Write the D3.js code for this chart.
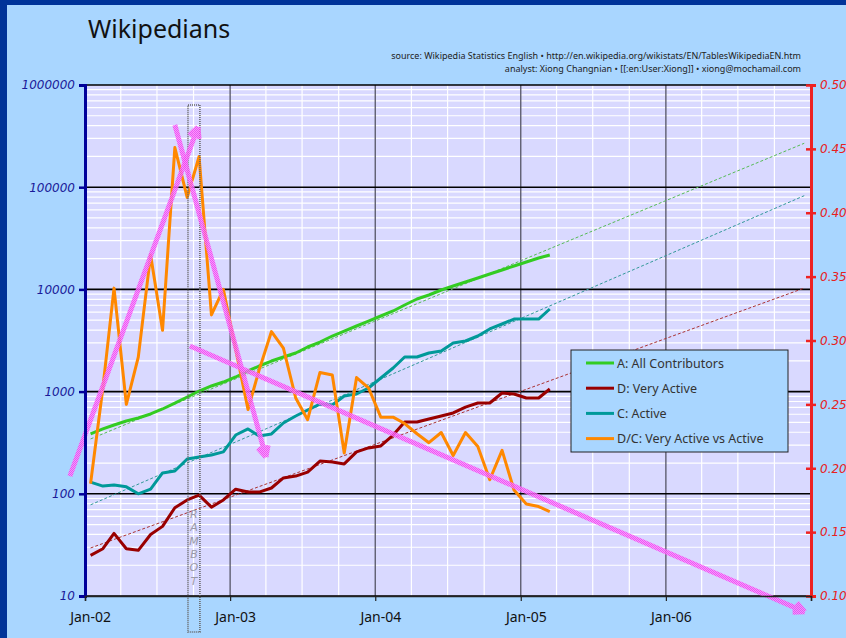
<!DOCTYPE html>
<html>
<head>
<meta charset="utf-8">
<script src="https://cdn.jsdelivr.net/npm/d3@7"></script>
<style>
  body { margin: 0; background: #a9d6ff; }
  svg { display: block; }
</style>
</head>
<body>
<svg width="846" height="638"></svg>
<script>
// monthly figures, English Wikipedia
var months = ["2002-01","2002-02","2002-03","2002-04","2002-05","2002-06","2002-07","2002-08","2002-09","2002-10","2002-11","2002-12",
              "2003-01","2003-02","2003-03","2003-04","2003-05","2003-06","2003-07","2003-08","2003-09","2003-10","2003-11","2003-12",
              "2004-01","2004-02","2004-03","2004-04","2004-05","2004-06","2004-07","2004-08","2004-09","2004-10","2004-11","2004-12",
              "2005-01","2005-02","2005-03"];
var allContributors = [385,431,471,516,552,604,676,773,885,1013,1135,1241,1390,1591,1780,1991,2181,2387,2731,3056,3499,3916,4383,4905,
                       5493,6149,7035,8055,8813,9866,10790,11810,12940,14150,15490,16940,18540,20290,21720];
var veryActive = [25,29,41,29,28,40,48,73,87,97,74,87,111,104,104,114,143,149,163,209,205,196,257,281,
                  294,376,504,504,540,577,618,706,773,773,969,948,865,865,1060];
var active = [130,119,122,117,100,111,160,167,219,229,240,257,376,431,368,385,493,577,661,756,739,906,948,1085,
              1359,1702,2181,2181,2387,2497,2990,3127,3499,4100,4585,5130,5130,5130,6430];
var ratioDC = [0.188,0.263,0.341,0.250,0.287,0.367,0.308,0.451,0.412,0.444,0.320,0.340,0.293,0.246,0.277,0.307,0.294,0.255,0.238,0.275,
               0.273,0.212,0.271,0.263,0.240,0.240,0.235,0.227,0.220,0.228,0.210,0.228,0.217,0.191,0.214,0.183,0.172,0.170,0.166];

// exponential trend lines (start, end)
var trendDates = ["2002-01-15","2006-12-15"];
var trendAll = [344, 269000];
var trendActive = [78, 82600];
var trendVeryActive = [29.5, 10300];

// hand drawn arrows (date, value on left axis)
var arrowUpDates = ["2001-11-24","2002-10-12"], arrowUpValues = [149, 388000];
var arrowDownDates = ["2002-08-15","2003-04-01"], arrowDownValues = [406000, 229];
var arrowTrendDates = ["2002-09-22","2006-12-16"], arrowTrendValues = [2790, 7];

// rambot box
var rambotDates = ["2002-09-17","2002-10-17"], rambotValues = [637000, 4.45];

var leftTicks = [10,100,1000,10000,100000,1000000];
var rightTicks = [0.10,0.15,0.20,0.25,0.30,0.35,0.40,0.45,0.50];
var yearTicks = ["2002-01-01","2003-01-01","2004-01-01","2005-01-01","2006-01-01","2007-01-01"];
var xLabels = ["Jan-02","Jan-03","Jan-04","Jan-05","Jan-06"];

var seriesNames = ["A: All Contributors","D: Very Active","C: Active","D/C: Very Active vs Active"];
var seriesColors = ["#33cc22","#990000","#009999","#ff8800"];

var svg = d3.select("svg");
var W = 846, H = 638;
var plotL = 85, plotR = 811, plotT = 85, plotB = 596;

var parseMonth = function(s){ var p = s.split("-"); return new Date(+p[0], +p[1]-1, 15); };
var parseDay = d3.timeParse("%Y-%m-%d");

var x = d3.scaleTime().domain([new Date(2002,0,1), new Date(2007,0,1)]).range([plotL, plotR]);
var yL = d3.scaleLog().domain([10, 1000000]).range([plotB, plotT]);
var yR = d3.scaleLinear().domain([0.1, 0.5]).range([plotB, plotT]);

// background
svg.append("rect").attr("width", W).attr("height", H).attr("fill", "#003399");
svg.append("rect").attr("x", 7).attr("y", 5).attr("width", W-7).attr("height", H-5).attr("fill", "#a9d6ff");
svg.append("rect").attr("x", plotL).attr("y", plotT).attr("width", plotR-plotL).attr("height", plotB-plotT).attr("fill", "#d9d9ff");

var defs = svg.append("defs");
var pat = defs.append("pattern").attr("id", "pinkHatch").attr("width", 2).attr("height", 2)
    .attr("patternUnits", "userSpaceOnUse");
pat.append("rect").attr("width", 2).attr("height", 2).attr("fill", "#ff88ff");
pat.append("rect").attr("width", 1).attr("height", 1).attr("fill", "#ee44ee");
pat.append("rect").attr("x", 1).attr("y", 1).attr("width", 1).attr("height", 1).attr("fill", "#ee44ee");

// gridlines
var minor = [];
leftTicks.slice(0, -1).forEach(function(d){ for (var k = 2; k < 10; k++) minor.push(d*k); });
var grid = svg.append("g");
grid.selectAll(".hmin").data(minor).enter().append("line")
    .attr("x1", plotL).attr("x2", plotR)
    .attr("y1", function(d){ return yL(d); }).attr("y2", function(d){ return yL(d); })
    .attr("stroke", "#ffffff").attr("stroke-width", 1.2);

var quarters = d3.timeMonth.range(new Date(2002,0,1), new Date(2007,0,1), 3)
    .filter(function(d){ return d.getMonth() != 0; });
grid.selectAll(".vq").data(quarters).enter().append("line")
    .attr("x1", function(d){ return x(d); }).attr("x2", function(d){ return x(d); })
    .attr("y1", plotT).attr("y2", plotB)
    .attr("stroke", "#ffffff").attr("stroke-width", 1.2);

grid.selectAll(".vy").data(yearTicks.slice(1, -1)).enter().append("line")
    .attr("x1", function(d){ return x(parseDay(d)); }).attr("x2", function(d){ return x(parseDay(d)); })
    .attr("y1", plotT).attr("y2", plotB)
    .attr("stroke", "#555566").attr("stroke-width", 1.3);

grid.selectAll(".hd").data(leftTicks).enter().append("line")
    .attr("x1", plotL).attr("x2", plotR)
    .attr("y1", function(d){ return yL(d); }).attr("y2", function(d){ return yL(d); })
    .attr("stroke", "#000000").attr("stroke-width", 1.6);

// trend lines
var trendLine = d3.line().x(function(d){ return x(d[0]); }).y(function(d){ return yL(d[1]); });
var trends = [[trendAll, "#55bb55"], [trendVeryActive, "#aa3333"], [trendActive, "#339999"]];
trends.forEach(function(t){
    var pts = trendDates.map(function(d, i){ return [parseDay(d), t[0][i]]; });
    svg.append("path").attr("d", trendLine(pts)).attr("fill", "none")
        .attr("stroke", t[1]).attr("stroke-width", 1).attr("stroke-dasharray", "3,2");
});

// series
var dates = months.map(parseMonth);
var lineL = d3.line().x(function(d, i){ return x(dates[i]); }).y(function(d){ return yL(d); });
var lineR = d3.line().x(function(d, i){ return x(dates[i]); }).y(function(d){ return yR(d); });
var series = [[allContributors, lineL, seriesColors[0]], [veryActive, lineL, seriesColors[1]],
              [active, lineL, seriesColors[2]], [ratioDC, lineR, seriesColors[3]]];
series.forEach(function(s){
    svg.append("path").attr("d", s[1](s[0])).attr("fill", "none")
        .attr("stroke", s[2]).attr("stroke-width", 3).attr("stroke-linejoin", "round");
});

// rambot
var rb = svg.append("g");
rb.append("rect")
    .attr("x", x(parseDay(rambotDates[0]))).attr("y", yL(rambotValues[0]))
    .attr("width", x(parseDay(rambotDates[1])) - x(parseDay(rambotDates[0])))
    .attr("height", yL(rambotValues[1]) - yL(rambotValues[0]))
    .attr("fill", "none").attr("stroke", "#666").attr("stroke-width", 1.6).attr("stroke-dasharray", "1,1");
var rbx = (x(parseDay(rambotDates[0])) + x(parseDay(rambotDates[1]))) / 2;
"RAMBOT".split("").forEach(function(c, i){
    rb.append("text").attr("x", rbx).attr("y", 518 + i*13.3).attr("text-anchor", "middle")
        .attr("font-family", "DejaVu Sans").attr("font-style", "italic").attr("font-size", 11)
        .attr("fill", "#9a9aa8").text(c);
});

// arrows
function arrow(ds, vs){
    var p0 = [x(parseDay(ds[0])), yL(vs[0])], p1 = [x(parseDay(ds[1])), yL(vs[1])];
    var a = Math.atan2(p1[1]-p0[1], p1[0]-p0[0]);
    var g = svg.append("g").attr("fill", "none").attr("stroke", "url(#pinkHatch)")
        .attr("stroke-width", 5).attr("stroke-linecap", "butt").attr("opacity", 0.85);
    g.append("line").attr("x1", p0[0]).attr("y1", p0[1]).attr("x2", p1[0]).attr("y2", p1[1]);
    [-0.45, 0.45].forEach(function(o){
        g.append("line").attr("x1", p1[0]).attr("y1", p1[1])
            .attr("x2", p1[0] - 12*Math.cos(a+o)).attr("y2", p1[1] - 12*Math.sin(a+o));
    });
}
arrow(arrowUpDates, arrowUpValues);
arrow(arrowDownDates, arrowDownValues);
arrow(arrowTrendDates, arrowTrendValues);

// axes
var axL = svg.append("g").attr("transform", "translate(" + plotL + ",0)")
    .call(d3.axisLeft(yL).tickValues(leftTicks).tickFormat(d3.format("d")).tickSize(6).tickPadding(4));
axL.select(".domain").attr("stroke", "#000099").attr("stroke-width", 3);
axL.selectAll(".tick line").attr("stroke", "#000099").attr("stroke-width", 2.5);
axL.selectAll(".tick text").attr("fill", "#1a1a99").attr("font-family", "DejaVu Sans")
    .attr("font-style", "italic").attr("font-size", 12);

var axR = svg.append("g").attr("transform", "translate(" + plotR + ",0)")
    .call(d3.axisRight(yR).tickValues(rightTicks).tickFormat(d3.format(".2f")).tickSize(5).tickPadding(4));
axR.select(".domain").attr("stroke", "#ee2222").attr("stroke-width", 3);
axR.selectAll(".tick line").attr("x1", -5).attr("stroke", "#ee2222").attr("stroke-width", 2.5);
axR.selectAll(".tick text").attr("fill", "#e82020").attr("font-family", "DejaVu Sans")
    .attr("font-style", "italic").attr("font-size", 12);

var axB = svg.append("g").attr("transform", "translate(0," + plotB + ")")
    .call(d3.axisBottom(x).tickValues(yearTicks.map(parseDay)).tickFormat("").tickSize(5));
axB.select(".domain").attr("stroke", "#222").attr("stroke-width", 1.5);
axB.selectAll(".tick line").attr("stroke", "#222").attr("stroke-width", 1.2);
svg.append("g").selectAll("text").data(xLabels).enter().append("text")
    .attr("x", function(d, i){ return x(new Date(2002 + i, 0, 15)); }).attr("y", 622)
    .attr("text-anchor", "middle").attr("font-family", "Noto Sans").attr("font-size", 14)
    .attr("fill", "#111").text(function(d){ return d; });

// legend
var lg = svg.append("g").attr("transform", "translate(571,350)");
lg.append("rect").attr("width", 217).attr("height", 102).attr("fill", "#a9d6ff")
    .attr("stroke", "#222").attr("stroke-width", 1);
seriesNames.forEach(function(n, i){
    var yy = 13 + i*25.2;
    lg.append("line").attr("x1", 15).attr("x2", 43).attr("y1", yy).attr("y2", yy)
        .attr("stroke", seriesColors[i]).attr("stroke-width", 3);
    lg.append("text").attr("x", 46).attr("y", yy + 4.5).attr("font-family", "Noto Sans")
        .attr("font-size", 12.5).attr("fill", "#333").text(n);
});

// titles
svg.append("text").attr("x", 88).attr("y", 38).attr("font-family", "Noto Sans")
    .attr("font-size", 25).attr("fill", "#111").text("Wikipedians");
svg.append("text").attr("x", 801).attr("y", 59).attr("text-anchor", "end").attr("font-family", "Noto Sans")
    .attr("font-size", 9).attr("fill", "#222")
    .text("source: Wikipedia Statistics English \u2022 http://en.wikipedia.org/wikistats/EN/TablesWikipediaEN.htm");
svg.append("text").attr("x", 801).attr("y", 72).attr("text-anchor", "end").attr("font-family", "Noto Sans")
    .attr("font-size", 9).attr("fill", "#222")
    .text("analyst: Xiong Changnian \u2022 [[:en:User:Xiong]] \u2022 xiong@mochamail.com");
</script>
</body>
</html>
